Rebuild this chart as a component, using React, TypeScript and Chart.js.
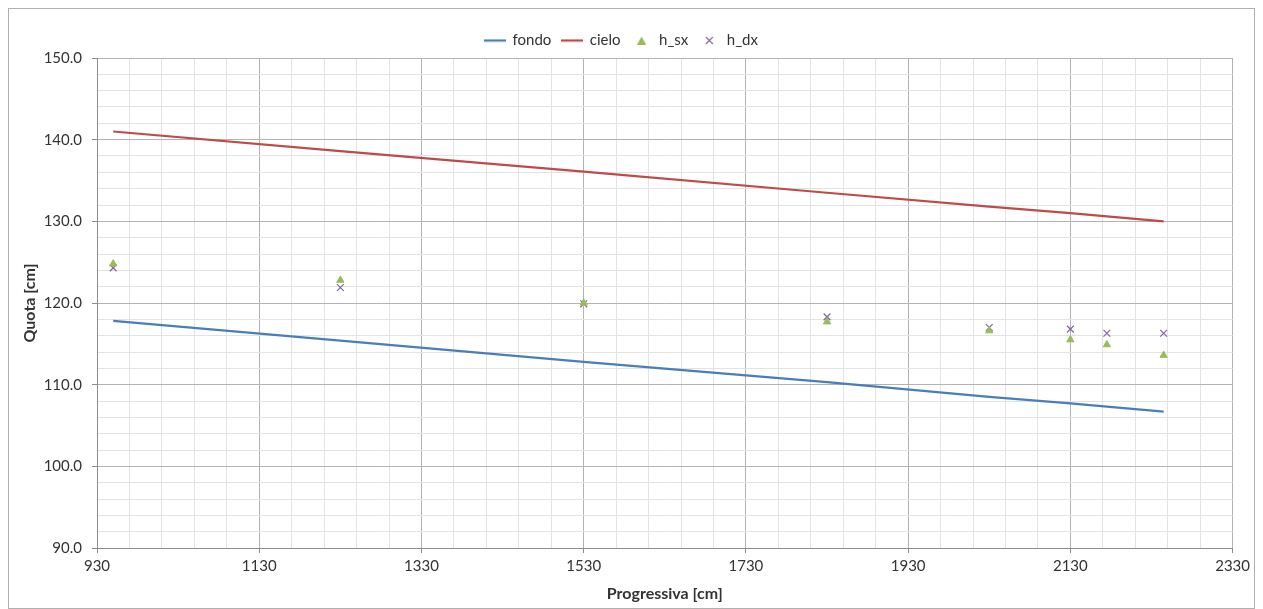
import React, { useEffect, useRef } from "react";
import { Chart, registerables } from "chart.js";

Chart.register(...registerables);

const progressiva = [950, 1230, 1530, 1830, 2030, 2130, 2175, 2245];
const fondo = [117.8, 115.4, 112.8, 110.3, 108.5, 107.7, 107.3, 106.7];
const cielo = [141.0, 138.6, 136.1, 133.5, 131.8, 131.0, 130.6, 130.0];
const hSx = [124.8, 122.8, 120.0, 117.7, 116.6, 115.5, 114.9, 113.6];
const hDx = [124.3, 121.9, 119.9, 118.3, 117.0, 116.8, 116.3, 116.3];

const xMajorTicks = [930, 1130, 1330, 1530, 1730, 1930, 2130, 2330];
const yMajorTicks = [90, 100, 110, 120, 130, 140, 150];
const minorDivisions = 5;

const FONT = "Lato, 'Open Sans', sans-serif";
const TEXT = "#333333";
const MAJOR_GRID = "#b3b3b3";
const MINOR_GRID = "#e3e3e3";
const AXIS = "#8c8c8c";

function withMinors(majors: number[]): number[] {
  const out: number[] = [];
  for (let i = 0; i < majors.length - 1; i++) {
    const step = (majors[i + 1] - majors[i]) / minorDivisions;
    for (let k = 0; k < minorDivisions; k++) out.push(majors[i] + k * step);
  }
  out.push(majors[majors.length - 1]);
  return out;
}

const pts = (ys: number[]) => progressiva.map((x, i) => ({ x, y: ys[i] }));

function legendIcon(kind: string, color: string): HTMLCanvasElement {
  const c = document.createElement("canvas");
  const ctx = c.getContext("2d")!;
  if (kind === "line") {
    c.width = 22;
    c.height = 4;
    ctx.strokeStyle = color;
    ctx.lineWidth = 2.25;
    ctx.beginPath();
    ctx.moveTo(0, 2);
    ctx.lineTo(22, 2);
    ctx.stroke();
  } else if (kind === "triangle") {
    c.width = 9;
    c.height = 8;
    ctx.fillStyle = color;
    ctx.beginPath();
    ctx.moveTo(4.5, 0);
    ctx.lineTo(9, 8);
    ctx.lineTo(0, 8);
    ctx.closePath();
    ctx.fill();
  } else {
    c.width = 9;
    c.height = 9;
    ctx.strokeStyle = color;
    ctx.lineWidth = 1.1;
    ctx.beginPath();
    ctx.moveTo(1, 1);
    ctx.lineTo(8, 8);
    ctx.moveTo(8, 1);
    ctx.lineTo(1, 8);
    ctx.stroke();
  }
  return c;
}

export default function App() {
  const ref = useRef<HTMLCanvasElement | null>(null);
  useEffect(() => {
    if (!ref.current) return;
    const isXMajor = (v: number) => xMajorTicks.includes(v);
    const isYMajor = (v: number) => yMajorTicks.some((t) => Math.abs(t - v) < 1e-6);
    const chart = new Chart(ref.current, {
      type: "scatter",
      data: {
        datasets: [
          {
            label: "fondo",
            data: pts(fondo),
            showLine: true,
            borderColor: "#4a7ebb",
            backgroundColor: "#4a7ebb",
            borderWidth: 2.25,
            pointRadius: 0,
            pointHoverRadius: 0,
          },
          {
            label: "cielo",
            data: pts(cielo),
            showLine: true,
            borderColor: "#be4b48",
            backgroundColor: "#be4b48",
            borderWidth: 2.25,
            pointRadius: 0,
            pointHoverRadius: 0,
          },
          {
            label: "h_sx",
            data: pts(hSx),
            showLine: false,
            pointStyle: "triangle",
            pointRadius: 4.2,
            borderColor: "#9bbb59",
            backgroundColor: "#9bbb59",
            borderWidth: 1,
          },
          {
            label: "h_dx",
            data: pts(hDx),
            showLine: false,
            pointStyle: "crossRot",
            pointRadius: 4.8,
            borderColor: "#8064a2",
            backgroundColor: "#8064a2",
            borderWidth: 1.2,
          },
        ],
      },
      options: {
        animation: false,
        responsive: false,
        maintainAspectRatio: false,
        layout: { padding: { top: 13, left: 0, right: 20, bottom: 0 } },
        plugins: {
          tooltip: { enabled: false },
          legend: {
            position: "top",
            labels: {
              usePointStyle: true,
              pointStyleWidth: 20,
              boxHeight: 8,
              padding: 11,
              color: TEXT,
              font: { family: FONT, size: 15 },
              generateLabels: (c: any) => {
                const items = (Chart as any).defaults.plugins.legend.labels.generateLabels(c);
                items.forEach((it: any, i: number) => {
                  const ds: any = c.data.datasets[i];
                  const kind = ds.showLine ? "line" : ds.pointStyle === "triangle" ? "triangle" : "cross";
                  it.pointStyle = legendIcon(kind, ds.borderColor);
                });
                return items;
              },
            },
          },
        },
        scales: {
          x: {
            type: "linear",
            min: xMajorTicks[0],
            max: xMajorTicks[xMajorTicks.length - 1],
            afterBuildTicks: (s: any) => {
              s.ticks = withMinors(xMajorTicks).map((value) => ({ value }));
            },
            afterFit: (s: any) => {
              s.height = 60;
            },
            border: { color: AXIS, width: 1 },
            grid: {
              color: (ctx: any) => (ctx.tick && isXMajor(ctx.tick.value) ? MAJOR_GRID : MINOR_GRID),
              tickColor: (ctx: any) => (ctx.tick && isXMajor(ctx.tick.value) ? AXIS : "rgba(0,0,0,0)"),
              tickLength: 5,
              lineWidth: 1,
            },
            ticks: {
              autoSkip: false,
              maxRotation: 0,
              padding: 4,
              color: TEXT,
              font: { family: FONT, size: 15 },
              callback: (v: any) => (isXMajor(Number(v)) ? String(v) : ""),
            },
            title: {
              display: true,
              text: "Progressiva [cm]",
              color: TEXT,
              font: { family: FONT, size: 16, weight: "bold" },
              padding: { top: 4, bottom: 5 },
            },
          },
          y: {
            type: "linear",
            min: yMajorTicks[0],
            max: yMajorTicks[yMajorTicks.length - 1],
            afterBuildTicks: (s: any) => {
              s.ticks = withMinors(yMajorTicks).map((value) => ({ value }));
            },
            afterFit: (s: any) => {
              s.width = 88;
            },
            border: { color: AXIS, width: 1 },
            grid: {
              color: (ctx: any) => (ctx.tick && isYMajor(ctx.tick.value) ? MAJOR_GRID : MINOR_GRID),
              tickColor: (ctx: any) => (ctx.tick && isYMajor(ctx.tick.value) ? AXIS : "rgba(0,0,0,0)"),
              tickLength: 5,
              lineWidth: 1,
            },
            ticks: {
              autoSkip: false,
              padding: 10,
              color: TEXT,
              font: { family: FONT, size: 15 },
              callback: (v: any) => (isYMajor(Number(v)) ? Number(v).toFixed(1) : ""),
            },
            title: {
              display: true,
              text: "Quota [cm]",
              color: TEXT,
              font: { family: FONT, size: 16, weight: "bold" },
              padding: { top: 11, bottom: 0 },
            },
          },
        },
      },
    } as any);
    return () => chart.destroy();
  }, []);

  return (
    <div style={{ width: 1245, height: 599, border: "1px solid #b0b0b0", background: "#fff" }}>
      <canvas ref={ref} width={1245} height={599} style={{ display: "block" }} />
    </div>
  );
}
